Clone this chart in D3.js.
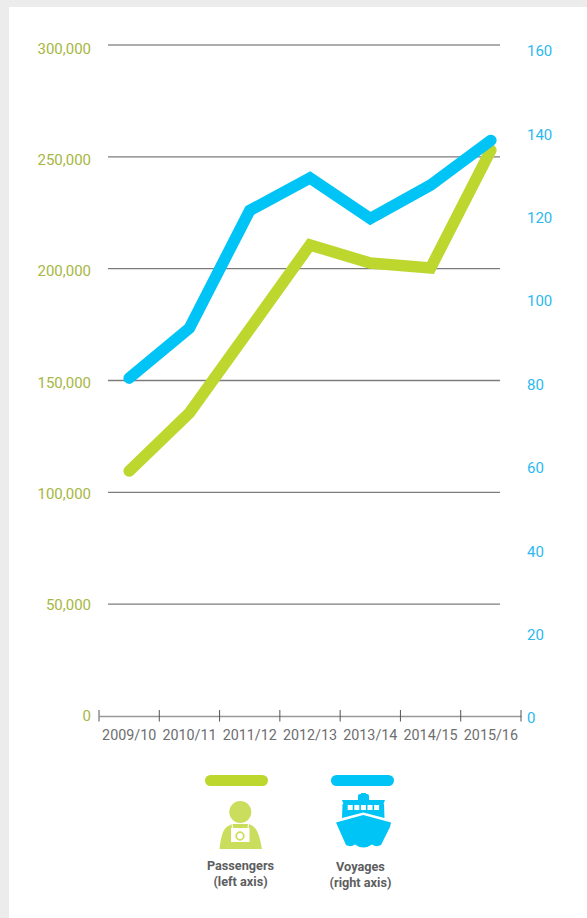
<!DOCTYPE html>
<html>
<head>
<meta charset="utf-8">
<script src="https://cdn.jsdelivr.net/npm/d3@7/dist/d3.min.js"></script>
<style>
  html, body { margin: 0; padding: 0; background: #fff; }
  svg { display: block; }
  text { font-family: Roboto, sans-serif; }
</style>
</head>
<body>
<div id="chart"></div>
<script>
// Cruise seasons and the two series plotted against them
const seasons = ["2009/10", "2010/11", "2011/12", "2012/13", "2013/14", "2014/15", "2015/16"];
const passengers = [109500, 135500, 173000, 210600, 202500, 200300, 253000];
const voyages = [81.5, 93.5, 121.7, 129.5, 119.8, 127.8, 138.5];
const passengerTicks = [0, 50000, 100000, 150000, 200000, 250000, 300000];
const voyageTicks = [0, 20, 40, 60, 80, 100, 120, 140, 160];
const gridTicks = [50000, 100000, 150000, 200000, 250000, 300000];

const GREEN = "#bdd72e", BLUE = "#00c4f5";
const W = 587, H = 918;

const svg = d3.select("#chart").append("svg").attr("width", W).attr("height", H);

// Page frame: pale grey strip along the top and left edges
svg.append("rect").attr("width", W).attr("height", H).attr("fill", "#ececec");
svg.append("rect").attr("x", 9).attr("y", 7).attr("width", W - 9).attr("height", H - 7).attr("fill", "#fff");

const x = d3.scaleBand().domain(seasons).range([99, 521]);
const xMid = d => x(d) + x.bandwidth() / 2;

const yLeft = d3.scaleLinear().domain([0, 300000]).range([716, 45]);
const yLeftLabel = d3.scaleLinear().domain([0, 300000]).range([715.7, 48.8]);
const yRight = d3.scaleLinear().domain([0, 160]).range([718, 50.8]);

// Horizontal gridlines
svg.append("g").selectAll("line").data(gridTicks).join("line")
  .attr("x1", 108).attr("x2", 500)
  .attr("y1", d => yLeft(d)).attr("y2", d => yLeft(d))
  .attr("stroke", d => d === 300000 ? "#5a5a5a" : "#7c7c7c")
  .attr("stroke-width", d => d === 300000 ? 1 : 1.4);

// Left axis labels
const leftAxis = svg.append("g").attr("transform", "translate(91,0)")
  .call(d3.axisLeft(yLeftLabel).tickValues(passengerTicks).tickSize(0).tickPadding(0)
    .tickFormat(d3.format(",")));
leftAxis.select(".domain").remove();
leftAxis.selectAll("text").attr("font-size", 15).attr("fill", "#a6b644")
  .style("font-family", "Roboto, sans-serif");

// Right axis labels
const rightAxis = svg.append("g").attr("transform", "translate(527,0)")
  .call(d3.axisRight(yRight).tickValues(voyageTicks).tickSize(0).tickPadding(0));
rightAxis.select(".domain").remove();
rightAxis.selectAll("text").attr("font-size", 15).attr("fill", "#2cb9f0")
  .style("font-family", "Roboto, sans-serif");

// Baseline with ticks on the season boundaries
const bottomAxis = svg.append("g").attr("transform", "translate(0,716)")
  .call(d3.axisBottom(x).tickSize(0).tickPadding(14));
bottomAxis.select(".domain").attr("stroke", "#999").attr("stroke-width", 1.6);
bottomAxis.selectAll("text").attr("font-size", 14.3).attr("fill", "#6d6e70")
  .style("font-family", "Roboto, sans-serif");
const boundaries = seasons.map(d => x(d)).concat(x.range()[1]);
svg.append("g").selectAll("line").data(boundaries).join("line")
  .attr("x1", d => d).attr("x2", d => d).attr("y1", 710).attr("y2", 721.5)
  .attr("stroke", "#555").attr("stroke-width", 1);

// Series lines
const passengerLine = d3.line().x((d, i) => xMid(seasons[i])).y(d => yLeft(d));
const voyageLine = d3.line().x((d, i) => xMid(seasons[i])).y(d => yRight(d));
svg.append("path").attr("d", passengerLine(passengers))
  .attr("fill", "none").attr("stroke", GREEN).attr("stroke-width", 11.5)
  .attr("stroke-linecap", "round").attr("stroke-linejoin", "miter");
svg.append("path").attr("d", voyageLine(voyages))
  .attr("fill", "none").attr("stroke", BLUE).attr("stroke-width", 11.5)
  .attr("stroke-linecap", "round").attr("stroke-linejoin", "miter");

// Legend swatches
const legendItems = [
  { colour: GREEN, left: 205, mid: 240.5, lines: ["Passengers", "(left axis)"], base: 870 },
  { colour: BLUE, left: 331, mid: 360.5, lines: ["Voyages", "(right axis)"], base: 871 }
];
const legend = svg.append("g");
legend.selectAll("rect").data(legendItems).join("rect")
  .attr("x", d => d.left).attr("y", 775).attr("width", 63).attr("height", 11).attr("rx", 5.5)
  .attr("fill", d => d.colour);
legendItems.forEach(item => {
  item.lines.forEach((line, i) => {
    legend.append("text").text(line)
      .attr("x", item.mid).attr("y", item.base + i * 16)
      .attr("text-anchor", "middle").attr("font-size", 12.7).attr("font-weight", 700)
      .attr("fill", "#5d5e60");
  });
});

// Passenger pictogram: figure with a camera round the neck
const person = legend.append("g");
const PERSON = "#cbdd5c";
person.append("circle").attr("cx", 240.3).attr("cy", 812).attr("r", 11).attr("fill", PERSON);
person.append("path").attr("fill", PERSON)
  .attr("d", "M219.5,849 C221,838 222,829 229,825.5 L232,824 L249,824 L252,825.5 C258,829 260,838 262,849 Z");
person.append("path").attr("fill", "none").attr("stroke", "#fff").attr("stroke-width", 1)
  .attr("d", "M232,823.5 L232.5,829 M248.5,823.5 L248,829");
person.append("rect").attr("x", 231).attr("y", 828).attr("width", 18.5).attr("height", 14).attr("fill", "#fff");
person.append("circle").attr("cx", 240).attr("cy", 836).attr("r", 3.8)
  .attr("fill", "#fff").attr("stroke", PERSON).attr("stroke-width", 1.8);

// Voyage pictogram: ship seen from the bow
const ship = legend.append("g").attr("fill", BLUE);
ship.append("path").attr("d", "M358,800.5 L358,796 Q358,794 360,794 L361,794 L361,793 L366,793 L366,794 L367,794 Q369,794 369,796 L369,800.5 Z");
ship.append("path").attr("d", "M342,800 L385,800 L383.5,804 L343.5,804 Z");
ship.append("path").attr("d", "M342.5,804 L384,804 L384.5,818 L363.3,812.5 L342,818 Z");
ship.selectAll("rect.window").data(d3.range(5)).join("rect")
  .attr("class", "window")
  .attr("x", d => 347.7 + d * 6.6).attr("y", 805).attr("width", 5).attr("height", 5).attr("fill", "#fff");
ship.append("path").attr("d", "M336,822.5 L363.3,815 L391,822.5 L390,827 L381,845 Q376.5,847.5 372,844.5 Q368,847.5 363.5,847.5 Q359,847.5 355,844.5 Q350.5,847.5 346,845 L338,827 Z");
</script>
</body>
</html>
